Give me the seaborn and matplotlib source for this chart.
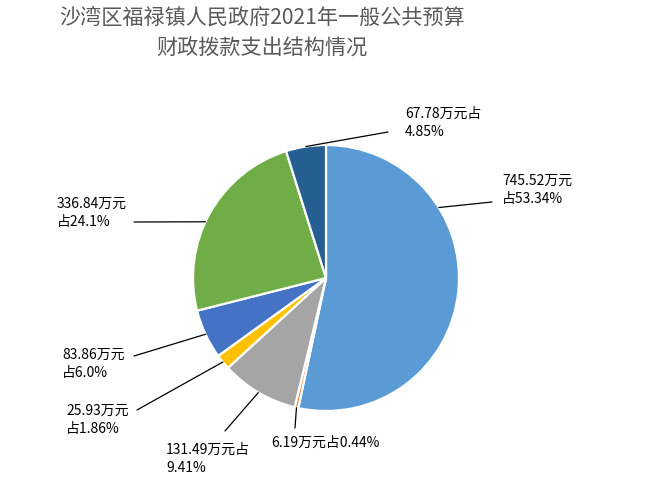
import numpy as np
import matplotlib
matplotlib.use("Agg")
import matplotlib.pyplot as plt
import seaborn as sns

# data (万元), clockwise from 12 o'clock
amounts = [745.52, 6.19, 131.49, 25.93, 83.86, 336.84, 67.78]
labels = [
    "745.52万元\n占53.34%",
    "6.19万元占0.44%",
    "131.49万元占\n9.41%",
    "25.93万元\n占1.86%",
    "83.86万元\n占6.0%",
    "336.84万元\n占24.1%",
    "67.78万元占\n4.85%",
]
colors = ["#5B9BD5", "#ED7D31", "#A5A5A5", "#FFC000", "#4472C4", "#70AD47", "#255E91"]
title = "沙湾区福禄镇人民政府2021年一般公共预算\n财政拨款支出结构情况"

sns.set_theme(style="white")
plt.rcParams["font.family"] = ["Noto Sans CJK SC", "DejaVu Sans"]

W, H = 665, 485
fig = plt.figure(figsize=(W / 100, H / 100), dpi=100)
ax = fig.add_axes([0, 0, 1, 1])


def py(y):
    # pixel row from top -> data y
    return H - y


cx, cy, r = 326, py(279), 133
wedges, _ = ax.pie(
    amounts,
    colors=colors,
    startangle=90,
    counterclock=False,
    center=(cx, cy),
    radius=r,
    wedgeprops=dict(edgecolor="white", linewidth=1.6),
)

# label layout: text left x / middle y, leader line end (pixels), leader start angle override
text_pos = [(502, 190), (271, 443), (166, 459), (66, 420), (62, 364), (57, 213), (405, 123)]
line_end = [(492, 203), (295, 429), (225, 432), (137, 411), (134, 357), (134, 223), (388, 133)]
start_ang = [32, None, None, None, None, 155, None]

for w, lab, tp, le, sa in zip(wedges, labels, text_pos, line_end, start_ang):
    a = (w.theta1 + w.theta2) / 2 if sa is None else sa
    ang = np.deg2rad(a)
    sx, sy = cx + r * np.cos(ang), cy + r * np.sin(ang)
    ax.plot([sx, le[0]], [sy, py(le[1])], color="#000000", lw=0.9)
    ax.text(tp[0], py(tp[1]), lab, ha="left", va="center", fontsize=10,
            color="#000000", linespacing=1.45)

ax.text(262, py(33), title, ha="center", va="center", fontsize=15.2,
        color="#595959", linespacing=1.55)

ax.set_xlim(0, W)
ax.set_ylim(0, H)
ax.axis("off")

fig.savefig("out.png", dpi=100)
